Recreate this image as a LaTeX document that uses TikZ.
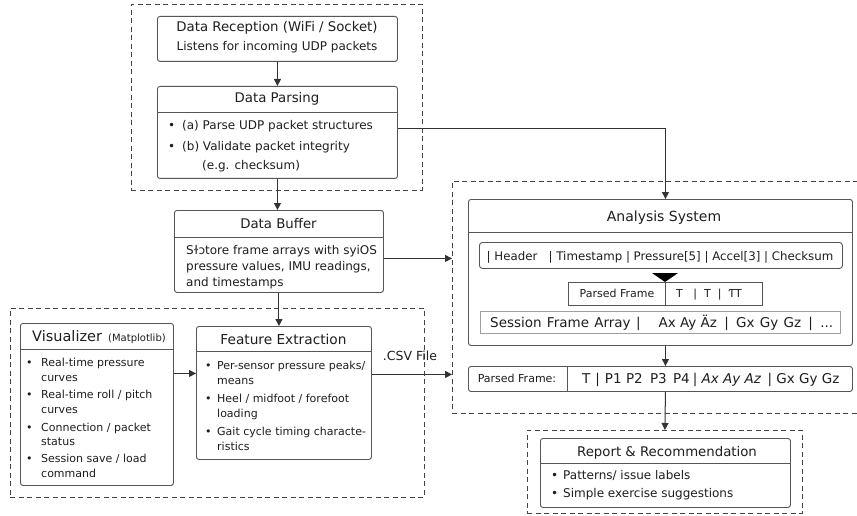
\documentclass[tikz,border=0pt]{standalone}
\usepackage{fontspec}
\setmainfont{DejaVu Sans}
\usetikzlibrary{arrows.meta}
\definecolor{ln}{HTML}{333333}
\definecolor{bx}{HTML}{555555}
\definecolor{tx}{HTML}{1E1E1E}
\definecolor{dsh}{HTML}{444444}
\tikzset{
  box/.style={draw=bx, line width=0.9pt, rounded corners=2.5pt, inner sep=0pt, anchor=north west},
  sqbox/.style={draw=bx, line width=0.9pt, inner sep=0pt, anchor=north west},
  dbox/.style={draw=dsh, line width=0.8pt, dash pattern=on 5pt off 3.5pt, inner sep=0pt, anchor=north west},
  divl/.style={draw=bx, line width=0.9pt},
  arr/.style={draw=ln, line width=1pt, -{Triangle[length=7pt,width=7pt]}},
  ttl/.style={font=\fontsize{13.3}{16}\selectfont, text=tx, inner sep=0pt, anchor=base},
  subt/.style={font=\fontsize{12}{14}\selectfont, text=tx, inner sep=0pt, anchor=base},
  bdy/.style={font=\fontsize{12}{14}\selectfont, text=tx, inner sep=0pt, anchor=base west},
  sbdy/.style={font=\fontsize{11}{13}\selectfont, text=tx, inner sep=0pt, anchor=base west},
  rowt/.style={font=\fontsize{13.5}{15}\selectfont, text=tx, inner sep=0pt, anchor=base west},
}
\begin{document}
\begin{tikzpicture}[x=1pt,y=-1pt]
\useasboundingbox (0,0) rectangle (857,516);
\fill[white] (0,0) rectangle (857,516);

% dashed groups
\node[dbox, minimum width=291pt, minimum height=186pt] (topd) at (131,4) {};
\node[dbox, minimum width=414pt, minimum height=189pt] (leftd) at (10,308) {};
\node[dbox, minimum width=410pt, minimum height=232pt] (rightd) at (452,181) {};
\node[dbox, minimum width=275pt, minimum height=83pt] (repd) at (527,430) {};

% Data Reception
\node[box, minimum width=240pt, minimum height=45pt] (recv) at (157,16) {};
\node[ttl] (recvt) at (277,32) {Data Reception (WiFi / Socket)};
\node[subt] (recvs) at (277,51) {Listens for incoming UDP packets};

% Data Parsing
\node[box, minimum width=240pt, minimum height=92pt] (pars) at (157,86) {};
\draw[divl] (157,112) -- (397,112);
\node[ttl] (parst) at (277,103) {Data Parsing};
\node[bdy] (pb1) at (168,130) {•};
\node[bdy] (p1) at (182,130) {(a) Parse UDP packet structures};
\node[bdy] (pb2) at (168,151) {•};
\node[bdy] (p2) at (182,151) {(b) Validate packet integrity};
\node[bdy] (p3) at (202,169) {(e.g. checksum)};

% Data Buffer
\node[box, minimum width=209pt, minimum height=82pt] (buf) at (174,210) {};
\draw[divl] (174,237) -- (383,237);
\node[ttl] (buft) at (278.5,228) {Data Buffer};
\node[bdy] (b1) at (186,254) {Sɫɔtore frame arrays with syiOS};
\node[bdy] (b2) at (186,270) {pressure values, IMU readings,};
\node[bdy] (b3) at (186,286) {and timestamps};

% Visualizer
\node[box, minimum width=153pt, minimum height=162pt] (vis) at (20,323) {};
\draw[divl] (20,349) -- (173,349);
\node[font=\fontsize{14.5}{17}\selectfont, text=tx, inner sep=0pt, anchor=base west] (vist) at (32,341) {Visualizer};
\node[font=\fontsize{10}{12}\selectfont, text=tx, inner sep=0pt, anchor=base west] (visp) at (108,341) {(Matplotlib)};
\node[sbdy] (vb1) at (26,366) {•};
\node[sbdy] (v1) at (41,366) {Real-time pressure};
\node[sbdy] (v2) at (41,381) {curves};
\node[sbdy] (vb3) at (26,398) {•};
\node[sbdy] (v3) at (41,398) {Real-time roll / pitch};
\node[sbdy] (v4) at (41,413) {curves};
\node[sbdy] (vb5) at (26,431) {•};
\node[sbdy] (v5) at (41,431) {Connection / packet};
\node[sbdy] (v6) at (41,445) {status};
\node[sbdy] (vb7) at (26,462) {•};
\node[sbdy] (v7) at (41,462) {Session save / load};
\node[sbdy] (v8) at (41,477) {command};

% Feature Extraction
\node[box, minimum width=175pt, minimum height=133pt] (fe) at (196,326) {};
\draw[divl] (196,351) -- (371,351);
\node[ttl, font=\fontsize{13.7}{16}\selectfont] (fet) at (283.5,344) {Feature Extraction};
\node[sbdy] (fb1) at (205,369) {•};
\node[sbdy] (f1) at (217,369) {Per-sensor pressure peaks/};
\node[sbdy] (f2) at (217,384) {means};
\node[sbdy] (fb3) at (205,402) {•};
\node[sbdy] (f3) at (217,402) {Heel / midfoot / forefoot};
\node[sbdy] (f4) at (217,417) {loading};
\node[sbdy] (fb5) at (205,435) {•};
\node[sbdy] (f5) at (217,435) {Gait cycle timing characte-};
\node[sbdy] (f6) at (217,450) {ristics};

% Analysis System
\node[box, minimum width=384pt, minimum height=146pt] (anal) at (468,199) {};
\draw[divl] (468,232) -- (852,232);
\node[ttl, font=\fontsize{14}{16}\selectfont] (analt) at (664,222) {Analysis System};
\node[box, rounded corners=3pt, minimum width=363pt, minimum height=26pt] (hdr) at (479,242) {};
\node[font=\fontsize{11.8}{14}\selectfont, text=tx, inner sep=0pt, anchor=base] (hdrt) at (660,260) {|\ Header\ \ \ |\ Timestamp\ |\ Pressure[5]\ |\ Accel[3]\ |\ Checksum};
\fill[black] (652,273) -- (678,273) -- (665,282) -- cycle;
\node[sqbox, minimum width=194pt, minimum height=23pt] (pft) at (568,282) {};
\draw[divl] (665,282) -- (665,305);
\node[sbdy, anchor=base] (pftl) at (617,297) {Parsed Frame};
\node[sbdy] (pftr) at (676,297) {T\ \ \ |\ \ T\ \ |\ \ ƬT};
\node[sqbox, draw=gray!75, minimum width=360pt, minimum height=22pt] (ses) at (480,311) {};
\node[rowt] (sest) at (490,327.5) {Session\hspace{1pt} Frame\hspace{1pt} Array\hspace{1pt} |\hspace{18pt}Ax Ay Äz\hspace{3pt} |\hspace{3pt} Gx\hspace{1pt} Gy\hspace{1pt} Gz\hspace{3pt} |\hspace{3pt} ...};

% Parsed Frame row
\node[box, minimum width=384pt, minimum height=25pt] (pf) at (468,366) {};
\draw[divl] (567,366) -- (567,391);
\node[sbdy, anchor=base] (pfl) at (517,382) {Parsed Frame:};
\node[rowt] (pfr) at (582,383.5) {T\hspace{5pt}|\hspace{5pt}P1\ P2\hspace{3pt} P3\hspace{2pt} P4\hspace{3pt}|\ \textit{Ax Ay Az}\hspace{2pt} |\ Gx Gy Gz};

% Report
\node[box, minimum width=250pt, minimum height=69pt] (rep) at (540,438) {};
\draw[divl] (540,463) -- (790,463);
\node[ttl] (rept) at (667,456) {Report \& Recommendation};
\node[bdy] (rb1) at (551,479) {•};
\node[bdy] (r1) at (563,479) {Patterns/ issue labels};
\node[bdy] (rb2) at (551,497) {•};
\node[bdy] (r2) at (563,497) {Simple exercise suggestions};

% connectors
\draw[arr] (recv.south) -- (pars.north);
\draw[arr] (pars.south) -- (pars.south |- buf.north);
\draw[arr] ([yshift=4pt]pars.east) -| ([xshift=5pt]anal.north);
\draw[arr] ([yshift=-7pt]buf.east) -- ([yshift=-7pt]buf.east -| rightd.west);
\draw[arr] (buf.south) -- (buf.south |- fe.north);
\draw[arr] ([yshift=31pt]vis.east) -- ([yshift=31pt]vis.east -| fe.west);
\draw[arr] ([yshift=18.5pt]fe.east) -- ([yshift=18.5pt]fe.east -| rightd.west);
\node[subt, font=\fontsize{12.5}{15}\selectfont] (csv) at (410,360) {.CSV File};
\draw[arr] ([xshift=5pt]anal.south) -- ([xshift=5pt]pf.north);
\draw[arr] ([xshift=5pt]pf.south) -- (repd.north);
\end{tikzpicture}
\end{document}
